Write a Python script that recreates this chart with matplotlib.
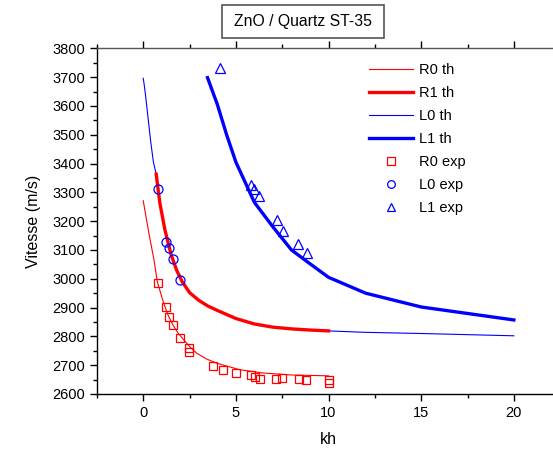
import matplotlib
matplotlib.use("Agg")
import matplotlib.pyplot as plt
from matplotlib.patches import Rectangle
from matplotlib.ticker import MultipleLocator

plt.rcParams['font.family'] = ['Liberation Sans', 'DejaVu Sans']

# theory curves
r0_x = [0, 0.3, 0.58, 0.76, 1.08, 1.35, 1.62, 1.9, 2.16, 2.5, 2.88, 3.4, 3.96, 5.22, 6.48, 8.0, 10.0]
r0_y = [3271, 3160, 3066, 2990, 2920, 2872, 2838, 2810, 2790, 2765, 2742, 2722, 2707, 2684, 2673, 2666, 2663]

r1_x = [0.7, 0.9, 1.17, 1.5, 1.8, 2.1, 2.5, 3.0, 3.5, 4.0, 5.0, 6.0, 7.0, 8.0, 9.0, 10.0]
r1_y = [3363, 3262, 3170, 3085, 3030, 2990, 2952, 2925, 2905, 2890, 2862, 2843, 2832, 2826, 2822, 2819]

l0_x = [0, 0.05, 0.12, 0.25, 0.4, 0.55, 0.7, 0.9, 1.17, 1.5, 1.8, 2.1, 2.5, 3.0, 3.5, 4.0,
        5.0, 6.0, 7.0, 8.0, 9.0, 10.0, 12.0, 15.0, 20.0]
l0_y = [3696, 3675, 3640, 3565, 3478, 3405, 3363, 3262, 3170, 3085, 3030, 2990, 2952, 2925, 2905, 2890,
        2862, 2843, 2832, 2826, 2822, 2819, 2814, 2810, 2802]

l1_x = [3.47, 4.0, 4.5, 5.0, 6.0, 7.0, 8.0, 9.0, 10.0, 12.0, 15.0, 20.0]
l1_y = [3698, 3605, 3500, 3405, 3265, 3180, 3100, 3052, 3005, 2950, 2902, 2857]

# experimental points
r0e_x = [0.80, 1.21, 1.40, 1.62, 1.98, 2.45, 2.47, 3.74, 4.30, 5.00, 5.79, 6.01, 6.30,
         7.16, 7.50, 8.39, 8.80, 10.04, 10.04]
r0e_y = [2984, 2903, 2868, 2839, 2793, 2759, 2745, 2698, 2682, 2672, 2665, 2660, 2652,
         2652, 2655, 2651, 2648, 2648, 2637]

l0e_x = [0.81, 1.21, 1.39, 1.62, 1.96]
l0e_y = [3311, 3126, 3106, 3068, 2996]

l1e_x = [4.14, 5.80, 5.99, 6.26, 7.20, 7.56, 8.36, 8.82]
l1e_y = [3731, 3326, 3312, 3289, 3204, 3167, 3120, 3091]

red = '#ff0000'
blue = '#0000ff'

fig = plt.figure(figsize=(5.53, 4.51), dpi=100)
ax = fig.add_axes([0.1752, 0.1264, 0.8378, 0.7665])

ax.plot(r0_x, r0_y, color=red, lw=0.8, label='R0 th', zorder=2)
ax.plot(r1_x, r1_y, color=red, lw=2.4, label='R1 th', zorder=3)
ax.plot(l0_x, l0_y, color=blue, lw=0.8, label='L0 th', zorder=1)
ax.plot(l1_x, l1_y, color=blue, lw=2.4, label='L1 th', zorder=3)
ax.plot(r0e_x, r0e_y, ls='none', marker='s', ms=6, mfc='none', mec=red, mew=0.9,
        label='R0 exp', zorder=4)
ax.plot(l0e_x, l0e_y, ls='none', marker='o', ms=6.5, mfc='none', mec=blue, mew=0.9,
        label='L0 exp', zorder=4)
ax.plot(l1e_x, l1e_y, ls='none', marker='^', ms=7, mfc='none', mec=blue, mew=0.9,
        label='L1 exp', zorder=4)

ax.set_xlim(-2.5, 22.5)
ax.set_ylim(2600, 3800)
ax.xaxis.set_major_locator(MultipleLocator(5))
ax.xaxis.set_minor_locator(MultipleLocator(2.5))
ax.yaxis.set_major_locator(MultipleLocator(100))
ax.yaxis.set_minor_locator(MultipleLocator(50))
ax.tick_params(axis='x', which='both', direction='out', top=True, bottom=True,
               labelsize=10.5)
ax.tick_params(axis='y', which='both', direction='out', left=True, right=False,
               labelsize=10.5)
ax.tick_params(which='major', length=5, width=1)
ax.tick_params(which='minor', length=3, width=1)
ax.spines['right'].set_visible(False)
for s in ['left', 'top', 'bottom']:
    ax.spines[s].set_linewidth(1.0)
ax.spines['top'].set_color('#555555')

ax.set_xlabel('kh', fontsize=11.5, labelpad=9)
ax.set_ylabel('Vitesse (m/s)', fontsize=11.5, labelpad=8)

ax.legend(loc='upper left', bbox_to_anchor=(0.56, 0.995), frameon=False, fontsize=10.5,
          numpoints=1, handlelength=3.0, labelspacing=0.62, handletextpad=0.4,
          markerscale=0.85)

fig.patches.append(Rectangle((0.4014, 0.915), 0.293, 0.0739, transform=fig.transFigure,
                             fill=False, edgecolor='#555555', linewidth=1.2))
fig.text(0.548, 0.952, 'ZnO / Quartz ST-35', ha='center', va='center', fontsize=11.3)

fig.savefig('out.png', dpi=100)
